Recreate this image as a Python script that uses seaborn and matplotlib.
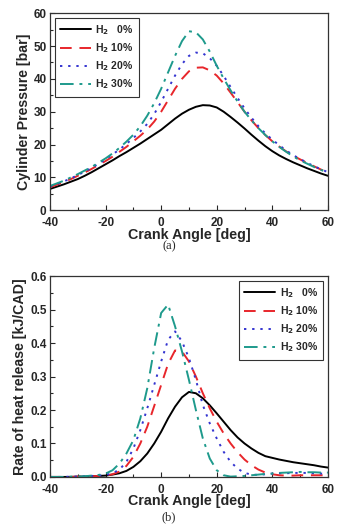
import numpy as np
import pandas as pd
import matplotlib
matplotlib.use("Agg")
import matplotlib.pyplot as plt
import seaborn as sns
from matplotlib.ticker import MultipleLocator

sns.set_style("ticks")
plt.rcParams['font.family'] = ['Liberation Sans', 'DejaVu Sans']
plt.rcParams['font.weight'] = 'bold'
plt.rcParams['mathtext.default'] = 'bf'
plt.rcParams['axes.unicode_minus'] = False

angle = [-40, -37.5, -35, -32.5, -30, -27.5, -25, -22.5, -20, -17.5,
         -15, -12.5, -10, -7.5, -5, -2.5, 0, 2.5, 5, 7.5,
         10, 12.5, 15, 17.5, 20, 22.5, 25, 27.5, 30, 32.5,
         35, 37.5, 40, 42.5, 45, 47.5, 50, 52.5, 55, 57.5, 60]

# cylinder pressure [bar]
p_h0 = [6.5, 7.2, 7.9, 8.7, 9.5, 10.5, 11.6, 12.8, 14.0, 15.2,
        16.5, 17.7, 19.0, 20.3, 21.7, 23.1, 24.5, 26.2, 27.9, 29.4,
        30.6, 31.5, 32.0, 31.9, 31.3, 30.0, 28.4, 26.7, 24.9, 23.0,
        21.2, 19.5, 18.0, 16.7, 15.6, 14.6, 13.7, 12.8, 12.0, 11.2, 10.5]
p_h10 = [7.0, 7.8, 8.6, 9.5, 10.5, 11.5, 12.6, 13.8, 15.0, 16.3,
         17.8, 19.3, 21.0, 22.7, 24.6, 27.0, 30.0, 33.5, 37.0, 40.0,
         42.3, 43.4, 43.5, 42.6, 41.0, 38.6, 35.8, 32.9, 30.0, 27.4,
         25.0, 22.9, 21.0, 19.4, 17.9, 16.6, 15.5, 14.4, 13.4, 12.4, 11.5]
p_h20 = [7.2, 8.0, 8.8, 9.7, 10.7, 11.8, 12.9, 14.2, 15.5, 17.0,
         18.5, 20.2, 22.0, 24.0, 26.3, 29.3, 33.0, 37.0, 41.0, 44.5,
         47.0, 48.0, 47.8, 46.3, 44.0, 40.9, 37.5, 34.2, 31.0, 28.2,
         25.6, 23.4, 21.5, 19.8, 18.2, 16.8, 15.6, 14.5, 13.4, 12.5, 11.6]
p_h30 = [7.4, 8.2, 9.0, 10.0, 11.0, 12.1, 13.2, 14.5, 15.8, 17.3,
         19.0, 20.9, 23.0, 25.6, 28.8, 32.6, 37.0, 42.0, 47.0, 51.5,
         54.5, 54.2, 52.0, 48.3, 44.0, 40.1, 36.5, 33.1, 30.0, 27.4,
         25.0, 22.9, 21.0, 19.3, 17.8, 16.4, 15.2, 14.2, 13.2, 12.3, 11.5]

# rate of heat release [kJ/CAD]
q_h0 = [0, 0, 0, 0, 0.001, 0.001, 0.002, 0.003, 0.004, 0.007,
        0.011, 0.018, 0.030, 0.047, 0.070, 0.100, 0.135, 0.175, 0.210, 0.238,
        0.254, 0.250, 0.235, 0.214, 0.190, 0.165, 0.140, 0.118, 0.100, 0.085,
        0.072, 0.062, 0.057, 0.052, 0.048, 0.044, 0.041, 0.038, 0.035, 0.031, 0.028]
q_h10 = [0, 0, 0, 0, 0.001, 0.001, 0.002, 0.003, 0.004, 0.008,
         0.016, 0.033, 0.060, 0.100, 0.150, 0.212, 0.275, 0.338, 0.378, 0.375,
         0.345, 0.300, 0.250, 0.205, 0.165, 0.130, 0.100, 0.074, 0.052, 0.035,
         0.022, 0.013, 0.008, 0.005, 0.004, 0.004, 0.005, 0.005, 0.005, 0.005, 0.005]
q_h20 = [0, 0, 0, 0.001, 0.001, 0.002, 0.003, 0.004, 0.006, 0.011,
         0.022, 0.045, 0.085, 0.140, 0.205, 0.275, 0.345, 0.410, 0.435, 0.405,
         0.355, 0.290, 0.215, 0.160, 0.115, 0.075, 0.045, 0.025, 0.012, 0.007,
         0.006, 0.008, 0.010, 0.011, 0.011, 0.012, 0.012, 0.012, 0.011, 0.010, 0.010]
q_h30 = [0, 0, 0, 0.001, 0.001, 0.002, 0.004, 0.006, 0.010, 0.020,
         0.040, 0.070, 0.110, 0.175, 0.265, 0.385, 0.490, 0.515, 0.450, 0.375,
         0.290, 0.200, 0.115, 0.055, 0.020, 0.005, 0.001, 0.002, 0.003, 0.005,
         0.007, 0.009, 0.010, 0.012, 0.013, 0.014, 0.015, 0.014, 0.014, 0.013, 0.013]

labels = [r'H$_2$   0%', r'H$_2$ 10%', r'H$_2$ 20%', r'H$_2$ 30%']
colors = ['black', '#e8262b', '#3434d0', '#1e9a8c']
styles = ['-', (0, (6, 4)), (0, (1.2, 3)), (0, (7, 3, 1.5, 3))]

fig = plt.figure(figsize=(3.38, 5.27), dpi=100)
ax1 = fig.add_axes([0.148, 0.601, 0.822, 0.374])
ax2 = fig.add_axes([0.148, 0.095, 0.822, 0.381])


def draw(ax, series, ymax, ystep, yminor, ylabel, legend_loc):
    for vals, lab, c, ls in zip(series, labels, colors, styles):
        sns.lineplot(x=angle, y=vals, ax=ax, color=c, linestyle=ls, linewidth=1.4, label=lab)
    ax.set_xlim(-40, 60)
    ax.set_ylim(0, ymax)
    ax.xaxis.set_major_locator(MultipleLocator(20))
    ax.xaxis.set_minor_locator(MultipleLocator(10))
    ax.yaxis.set_major_locator(MultipleLocator(ystep))
    ax.yaxis.set_minor_locator(MultipleLocator(yminor))
    ax.tick_params(which='both', direction='in', labelsize=8.5, width=0.8)
    ax.tick_params(axis='y', pad=2.5)
    ax.tick_params(axis='x', pad=5)
    ax.tick_params(which='major', length=3.5)
    ax.tick_params(which='minor', length=2)
    for t in ax.get_xticklabels() + ax.get_yticklabels():
        t.set_fontweight('bold')
    for s in ax.spines.values():
        s.set_linewidth(0.9)
        s.set_color('#333333')
    ax.set_xlabel('Crank Angle [deg]', fontsize=10.3, fontweight='bold', labelpad=-1)
    ax.set_ylabel(ylabel, fontsize=10.2, fontweight='bold', labelpad=2)
    leg = ax.legend(loc=legend_loc, fontsize=7.5, frameon=True, fancybox=False,
                    edgecolor='black', handlelength=3.0, borderpad=0.5,
                    labelspacing=0.42, handletextpad=0.4, borderaxespad=0.45)
    leg.get_frame().set_linewidth(0.8)
    for t in leg.get_texts():
        t.set_fontweight('bold')


draw(ax1, [p_h0, p_h10, p_h20, p_h30], 60, 10, 5, 'Cylinder Pressure [bar]', 'upper left')
draw(ax2, [q_h0, q_h10, q_h20, q_h30], 0.6, 0.1, 0.05, 'Rate of heat release [kJ/CAD]', 'upper right')

fig.text(0.5, 0.532, '(a)', ha='center', va='center', fontsize=9, family='Liberation Serif', fontweight='normal')
fig.text(0.5, 0.019, '(b)', ha='center', va='center', fontsize=9, family='Liberation Serif', fontweight='normal')

fig.savefig('out.png', dpi=100)
